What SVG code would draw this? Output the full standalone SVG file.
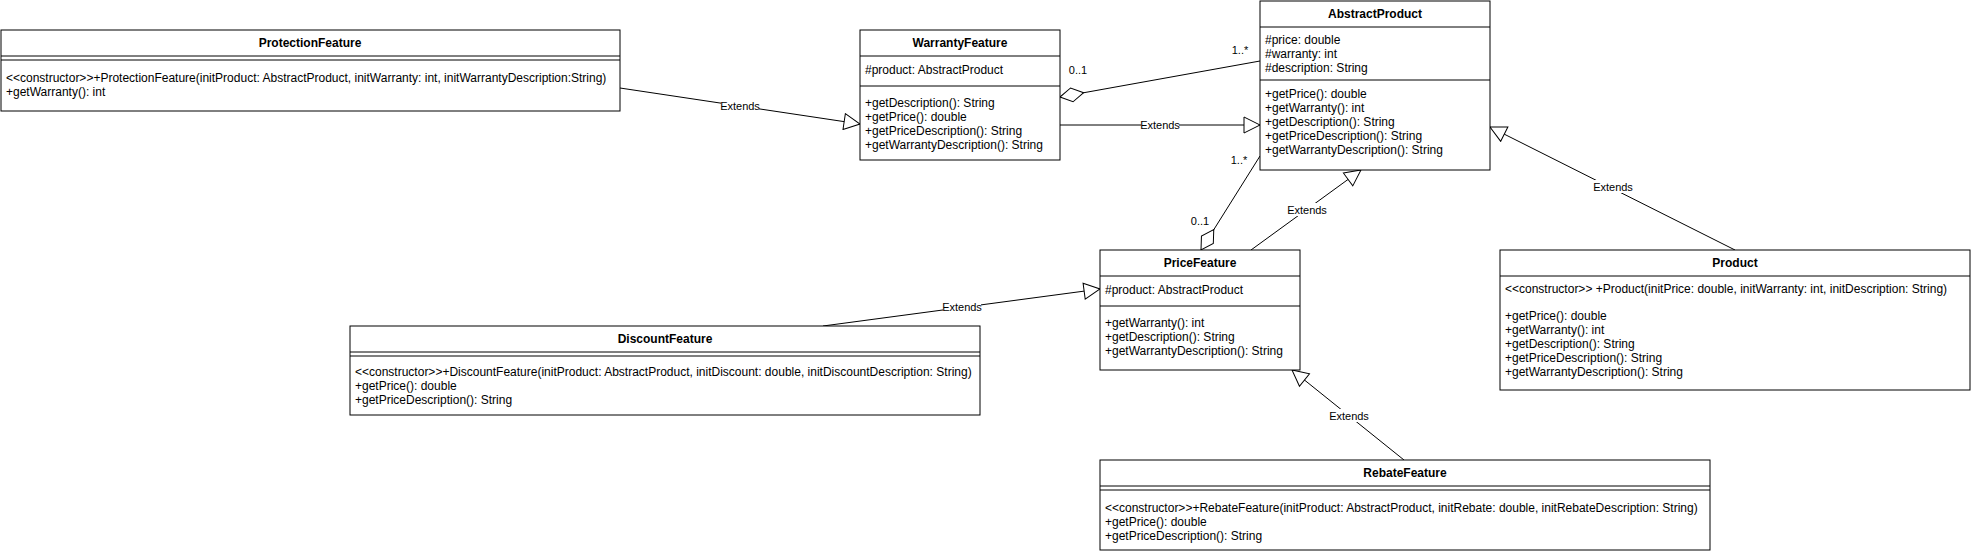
<svg xmlns="http://www.w3.org/2000/svg" width="1971" height="554" viewBox="0 0 1971 554">
<style>
.box{fill:#fff;stroke:#000;stroke-width:1}
.sep{stroke:#000;stroke-width:1}
.t{font-family:"Liberation Sans",Arial,sans-serif;font-size:12px;fill:#000}
.title{font-family:"Liberation Sans",Arial,sans-serif;font-size:12px;font-weight:bold;fill:#000;text-anchor:middle}
.lbl{font-family:"Liberation Sans",Arial,sans-serif;font-size:11px;fill:#000;text-anchor:middle}
.edge{stroke:#000;stroke-width:1;fill:none}
.ext{marker-end:url(#tri)}
.agg{marker-start:url(#dia)}
.lbg{fill:#fff}
</style>
<defs>
<marker id="tri" markerUnits="userSpaceOnUse" markerWidth="18" markerHeight="18" refX="16" refY="8" orient="auto" viewBox="-1 -1 18 18">
<path d="M0,0 L16,8 L0,16 Z" fill="#fff" stroke="#000" stroke-width="1"/>
</marker>
<marker id="dia" markerUnits="userSpaceOnUse" markerWidth="26" markerHeight="16" refX="0" refY="7" orient="auto" viewBox="-1 -1 26 16">
<path d="M0,7 L12,0 L24,7 L12,14 Z" fill="#fff" stroke="#000" stroke-width="1"/>
</marker>
</defs>
<g id="connectors">
<path class="edge ext" d="M620,88 L860,124"/>
<rect class="lbg" x="721" y="99" width="38" height="13"/>
<text class="lbl" x="740" y="110">Extends</text>
<path class="edge ext" d="M1060,125 L1260,125"/>
<rect class="lbg" x="1141" y="118" width="38" height="13"/>
<text class="lbl" x="1160" y="129">Extends</text>
<path class="edge agg" d="M1060,97 L1260,61"/>
<text class="lbl" x="1078" y="74">0..1</text>
<text class="lbl" x="1240" y="54">1..*</text>
<path class="edge agg" d="M1201,250 L1260,156"/>
<text class="lbl" x="1200" y="225">0..1</text>
<text class="lbl" x="1239" y="164">1..*</text>
<path class="edge ext" d="M1251,250 L1361,170"/>
<rect class="lbg" x="1288" y="203" width="38" height="13"/>
<text class="lbl" x="1307" y="214">Extends</text>
<path class="edge ext" d="M1735,250 L1490,127"/>
<rect class="lbg" x="1594" y="180" width="38" height="13"/>
<text class="lbl" x="1613" y="191">Extends</text>
<path class="edge ext" d="M823,326 L1100,289"/>
<rect class="lbg" x="943" y="300" width="38" height="13"/>
<text class="lbl" x="962" y="311">Extends</text>
<path class="edge ext" d="M1404,460 L1292,370"/>
<rect class="lbg" x="1330" y="409" width="38" height="13"/>
<text class="lbl" x="1349" y="420">Extends</text>
</g>
<g id="ProtectionFeature">
<rect class="box" x="1" y="30" width="619" height="81"/>
<text class="title" x="310" y="47">ProtectionFeature</text>
<line class="sep" x1="1" y1="56" x2="620" y2="56"/>
<line class="sep" x1="1" y1="60" x2="620" y2="60"/>
<text class="t" x="6" y="82">&lt;&lt;constructor&gt;&gt;+ProtectionFeature(initProduct: AbstractProduct, initWarranty: int, initWarrantyDescription:String)</text>
<text class="t" x="6" y="96">+getWarranty(): int</text>
</g>
<g id="WarrantyFeature">
<rect class="box" x="860" y="30" width="200" height="130"/>
<text class="title" x="960" y="47">WarrantyFeature</text>
<line class="sep" x1="860" y1="56" x2="1060" y2="56"/>
<text class="t" x="865" y="74">#product: AbstractProduct</text>
<line class="sep" x1="860" y1="86" x2="1060" y2="86"/>
<text class="t" x="865" y="107">+getDescription(): String</text>
<text class="t" x="865" y="121">+getPrice(): double</text>
<text class="t" x="865" y="135">+getPriceDescription(): String</text>
<text class="t" x="865" y="149">+getWarrantyDescription(): String</text>
</g>
<g id="AbstractProduct">
<rect class="box" x="1260" y="1" width="230" height="169"/>
<text class="title" x="1375" y="18">AbstractProduct</text>
<line class="sep" x1="1260" y1="27" x2="1490" y2="27"/>
<text class="t" x="1265" y="44">#price: double</text>
<text class="t" x="1265" y="58">#warranty: int</text>
<text class="t" x="1265" y="72">#description: String</text>
<line class="sep" x1="1260" y1="80" x2="1490" y2="80"/>
<text class="t" x="1265" y="98">+getPrice(): double</text>
<text class="t" x="1265" y="112">+getWarranty(): int</text>
<text class="t" x="1265" y="126">+getDescription(): String</text>
<text class="t" x="1265" y="140">+getPriceDescription(): String</text>
<text class="t" x="1265" y="154">+getWarrantyDescription(): String</text>
</g>
<g id="PriceFeature">
<rect class="box" x="1100" y="250" width="200" height="120"/>
<text class="title" x="1200" y="267">PriceFeature</text>
<line class="sep" x1="1100" y1="276" x2="1300" y2="276"/>
<text class="t" x="1105" y="294">#product: AbstractProduct</text>
<line class="sep" x1="1100" y1="306" x2="1300" y2="306"/>
<text class="t" x="1105" y="327">+getWarranty(): int</text>
<text class="t" x="1105" y="341">+getDescription(): String</text>
<text class="t" x="1105" y="355">+getWarrantyDescription(): String</text>
</g>
<g id="Product">
<rect class="box" x="1500" y="250" width="470" height="140"/>
<text class="title" x="1735" y="267">Product</text>
<line class="sep" x1="1500" y1="276" x2="1970" y2="276"/>
<text class="t" x="1505" y="293">&lt;&lt;constructor&gt;&gt; +Product(initPrice: double, initWarranty: int, initDescription: String)</text>
<text class="t" x="1505" y="320">+getPrice(): double</text>
<text class="t" x="1505" y="334">+getWarranty(): int</text>
<text class="t" x="1505" y="348">+getDescription(): String</text>
<text class="t" x="1505" y="362">+getPriceDescription(): String</text>
<text class="t" x="1505" y="376">+getWarrantyDescription(): String</text>
</g>
<g id="DiscountFeature">
<rect class="box" x="350" y="326" width="630" height="89"/>
<text class="title" x="665" y="343">DiscountFeature</text>
<line class="sep" x1="350" y1="352" x2="980" y2="352"/>
<line class="sep" x1="350" y1="356" x2="980" y2="356"/>
<text class="t" x="355" y="376">&lt;&lt;constructor&gt;&gt;+DiscountFeature(initProduct: AbstractProduct, initDiscount: double, initDiscountDescription: String)</text>
<text class="t" x="355" y="390">+getPrice(): double</text>
<text class="t" x="355" y="404">+getPriceDescription(): String</text>
</g>
<g id="RebateFeature">
<rect class="box" x="1100" y="460" width="610" height="90"/>
<text class="title" x="1405" y="477">RebateFeature</text>
<line class="sep" x1="1100" y1="486" x2="1710" y2="486"/>
<line class="sep" x1="1100" y1="490" x2="1710" y2="490"/>
<text class="t" x="1105" y="512">&lt;&lt;constructor&gt;&gt;+RebateFeature(initProduct: AbstractProduct, initRebate: double, initRebateDescription: String)</text>
<text class="t" x="1105" y="526">+getPrice(): double</text>
<text class="t" x="1105" y="540">+getPriceDescription(): String</text>
</g>
</svg>
